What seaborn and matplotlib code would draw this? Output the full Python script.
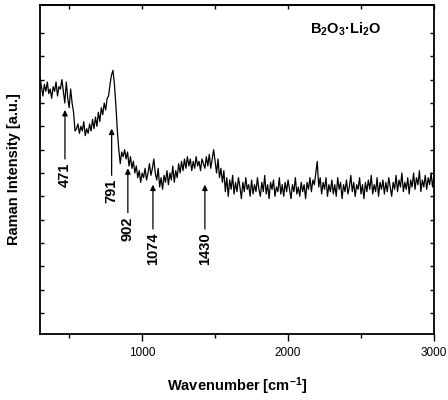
import numpy as np
import pandas as pd
import matplotlib
matplotlib.use("Agg")
import matplotlib.pyplot as plt
import seaborn as sns

# ---- data (arbitrary intensity units, one value per 10 cm^-1 from 300 to 3000) ----
wn_start = 300
wn_step = 10
intensity = [
    101, 97, 93, 98, 95, 99, 94, 96, 92, 97,      # 300
    95, 99, 93, 97, 96, 100, 95, 90, 99, 92,      # 400
    88, 96, 90, 86, 78, 79, 81, 77, 80, 78,       # 500
    82, 76, 79, 77, 81, 78, 83, 79, 84, 80,       # 600
    86, 82, 88, 85, 90, 87, 92, 93, 98, 102,      # 700
    104, 98, 89, 78, 70, 64, 69, 67, 70, 66,      # 800
    69, 63, 67, 62, 65, 60, 63, 58, 61, 56,       # 900
    60, 58, 62, 57, 60, 64, 59, 62, 66, 60,       # 1000
    57, 62, 54, 58, 53, 59, 56, 61, 55, 60,       # 1100
    57, 63, 56, 61, 58, 64, 60, 65, 61, 66,       # 1200
    62, 67, 63, 66, 61, 65, 62, 67, 63, 65,       # 1300
    61, 66, 64, 62, 67, 63, 68, 62, 66, 70,       # 1400
    65, 60, 66, 58, 62, 56, 61, 52, 58, 50,       # 1500
    57, 53, 59, 51, 56, 52, 58, 54, 49, 56,       # 1600
    52, 58, 53, 55, 50, 57, 51, 55, 52, 58,       # 1700
    53, 50, 56, 52, 59, 51, 55, 49, 56, 53,       # 1800
    57, 50, 54, 52, 58, 51, 55, 50, 56, 52,       # 1900
    57, 53, 49, 55, 52, 58, 51, 54, 50, 56,       # 2000
    52, 55, 49, 56, 53, 58, 52, 57, 55, 60,       # 2100
    65, 54, 58, 51, 56, 53, 58, 50, 55, 52,       # 2200
    57, 51, 55, 50, 58, 53, 56, 49, 55, 52,       # 2300
    57, 51, 54, 59, 52, 56, 50, 55, 53, 58,       # 2400
    51, 55, 49, 56, 52, 57, 53, 59, 51, 55,       # 2500
    52, 58, 50, 56, 53, 57, 51, 56, 52, 58,       # 2600
    54, 50, 56, 53, 59, 52, 57, 54, 60, 52,       # 2700
    56, 53, 58, 51, 57, 54, 60, 53, 58, 55,       # 2800
    61, 52, 57, 54, 59, 53, 58, 55, 60, 54,       # 2900
    59,                                           # 3000
]
wavenumber = wn_start + wn_step * np.arange(len(intensity))

peak_labels = ["471", "791", "902", "1074", "1430"]
peak_pos = [471, 791, 902, 1074, 1430]
arrow_head = [87, 79, 62, 55, 55]
arrow_tail = [66, 59, 43, 36, 36]

x_ticks_major = [1000, 2000, 3000]
x_ticks_minor = [500, 1500, 2500]
y_ticks = list(range(0, 130, 10))

df = pd.DataFrame({"Wavenumber": wavenumber, "Intensity": intensity})

# ---- style ----
sns.set_style("ticks")
plt.rcParams["font.family"] = ["Liberation Sans", "DejaVu Sans"]
plt.rcParams["mathtext.fontset"] = "custom"
plt.rcParams["mathtext.rm"] = "Liberation Sans"
plt.rcParams["mathtext.bf"] = "Liberation Sans:bold"
plt.rcParams["mathtext.default"] = "bf"
for key in ["text.color", "axes.labelcolor", "xtick.color", "ytick.color", "axes.edgecolor"]:
    plt.rcParams[key] = "black"

fig = plt.figure(figsize=(4.48, 4.0), dpi=100)
ax = fig.add_axes([40 / 448, 66 / 400, 394 / 448, 329 / 400])

sns.lineplot(data=df, x="Wavenumber", y="Intensity", ax=ax, color="black",
             linewidth=0.9, legend=False)

ax.set_xlim(300, 3000)
ax.set_ylim(-9, 132)

for s in ax.spines.values():
    s.set_linewidth(1.3)
    s.set_color("black")

ax.set_xticks(x_ticks_major)
ax.set_xticks(x_ticks_minor, minor=True)
ax.set_xticklabels([str(t) for t in x_ticks_major], fontsize=8.5, color="black")
ax.tick_params(axis="x", which="major", direction="out", length=5, width=1, pad=4,
               bottom=True, top=False, colors="black")
ax.tick_params(axis="x", which="minor", direction="out", length=3, width=1,
               bottom=True, top=False, colors="black")

ax.set_yticks(y_ticks)
ax.tick_params(axis="y", which="major", direction="in", length=3, width=1,
               left=True, right=True, labelleft=False, colors="black")

sec = ax.secondary_xaxis("top")
sec.set_xticks(sorted(x_ticks_major + x_ticks_minor))
sec.tick_params(direction="in", length=3, width=1, labeltop=False, colors="black")
sec.spines["top"].set_linewidth(1.3)
sec.spines["top"].set_color("black")

ax.set_xlabel("Wavenumber [cm$^{-1}$]", fontsize=10.5, fontweight="bold",
              labelpad=12, color="black")
ax.set_ylabel("Raman Intensity [a.u.]", fontsize=10.5, fontweight="bold",
              labelpad=14, color="black")

# peak annotations
for lab, xp, yh, yt in zip(peak_labels, peak_pos, arrow_head, arrow_tail):
    ax.annotate("", xy=(xp, yh), xytext=(xp, yt),
                arrowprops=dict(arrowstyle="-|>", color="black", lw=0.9,
                                mutation_scale=8, shrinkA=0, shrinkB=0))
    ax.text(xp, yt - 1.5, lab, rotation=90, ha="center", va="top",
            fontsize=10.5, fontweight="bold", color="black")

ax.text(0.775, 0.925, "B$_2$O$_3$·Li$_2$O", transform=ax.transAxes,
        ha="center", va="center", fontsize=10.5, fontweight="bold", color="black")

fig.savefig("out.png", dpi=100)
